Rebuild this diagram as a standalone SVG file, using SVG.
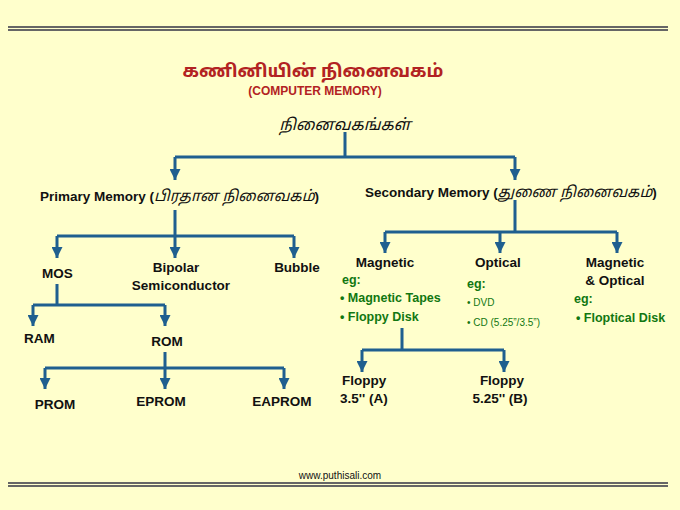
<svg xmlns="http://www.w3.org/2000/svg" width="680" height="510" viewBox="0 0 680 510">
<defs>
<marker id="ah" viewBox="0 0 10 10" refX="10" refY="5" markerWidth="11" markerHeight="11" markerUnits="userSpaceOnUse" orient="auto">
<path d="M0,0 L10,5 L0,10 Z" fill="#1f5f8f"/>
</marker>
<style>
text{font-family:"Liberation Sans",Arial,sans-serif;font-weight:bold;font-size:13.5px;fill:#111}
.ta{font-family:"Noto Sans Tamil","Lohit Tamil","Liberation Serif",serif;font-weight:normal;font-style:italic}
.g{fill:#117711;font-size:12.5px}
.s{fill:#117711;font-size:10px;font-weight:normal}
.c{text-anchor:middle}
.l{fill:none;stroke:#1f5f8f;stroke-width:3}
.a{fill:none;stroke:#1f5f8f;stroke-width:3;marker-end:url(#ah)}
</style>
</defs>
<rect width="680" height="510" fill="#ffffcc"/>
<g stroke="#334" stroke-width="1.5">
<line x1="8" y1="27" x2="668" y2="27"/><line x1="8" y1="30" x2="668" y2="30"/>
<line x1="8" y1="483" x2="668" y2="483"/><line x1="8" y1="486" x2="668" y2="486"/>
</g>
<g id="title">
<text x="313" y="77" class="c ta" style="fill:#b22222;font-size:18px;font-weight:bold;font-style:normal">கணினியின் நினைவகம்</text>
<text x="315" y="95" class="c" style="fill:#b22222;font-size:12px">(COMPUTER MEMORY)</text>
</g>
<g id="connectors">
<path class="l" d="M345,132 V157 M175,157 H515"/>
<path class="a" d="M175,157 V180"/><path class="a" d="M515,157 V180"/>
<path class="l" d="M175,210 V236 M57,236 H294"/>
<path class="a" d="M57,236 V258"/><path class="a" d="M175,236 V258"/><path class="a" d="M294,236 V258"/>
<path class="l" d="M57,284 V305 M33,305 H165"/>
<path class="a" d="M33,305 V326"/><path class="a" d="M165,305 V326"/>
<path class="l" d="M165,352 V368 M45,368 H284"/>
<path class="a" d="M45,368 V389"/><path class="a" d="M165,368 V389"/><path class="a" d="M284,368 V389"/>
<path class="l" d="M515,200 V232 M385,232 H617"/>
<path class="a" d="M385,232 V253"/><path class="a" d="M500,232 V253"/><path class="a" d="M617,232 V253"/>
<path class="l" d="M402,328 V350 M362,350 H504"/>
<path class="a" d="M362,350 V372"/><path class="a" d="M504,350 V372"/>
</g>
<g id="memories"><text x="345" y="130" class="c ta" style="font-size:16px">நினைவகங்கள்</text></g>
<g id="primary"><text x="40" y="201">Primary Memory (<tspan class="ta" style="font-weight:normal;font-size:15px">பிரதான நினைவகம்</tspan>)</text></g>
<g id="secondary"><text x="365" y="197">Secondary Memory (<tspan class="ta" style="font-weight:normal;font-size:15px">துணை நினைவகம்</tspan>)</text></g>
<g id="mos"><text x="42" y="278">MOS</text></g>
<g id="bipolar"><text x="176" y="272" class="c">Bipolar</text><text x="181" y="290" class="c">Semiconductor</text></g>
<g id="bubble"><text x="297" y="272" class="c">Bubble</text></g>
<g id="ram"><text x="24" y="343">RAM</text></g>
<g id="rom"><text x="167" y="346" class="c">ROM</text></g>
<g id="prom"><text x="55" y="409" class="c">PROM</text></g>
<g id="eprom"><text x="161" y="406" class="c">EPROM</text></g>
<g id="eaprom"><text x="282" y="406" class="c">EAPROM</text></g>
<g id="magnetic"><text x="385" y="267" class="c">Magnetic</text>
<text x="342" y="284" class="g">eg:</text><text x="340" y="302" class="g">• Magnetic Tapes</text><text x="340" y="321" class="g">• Floppy Disk</text></g>
<g id="optical"><text x="498" y="267" class="c">Optical</text>
<text x="467" y="288" class="g">eg:</text><text x="467" y="306" class="s">• DVD</text><text x="467" y="326" class="s">• CD (5.25”/3.5”)</text></g>
<g id="magopt"><text x="615" y="267" class="c">Magnetic</text><text x="615" y="285" class="c">&amp; Optical</text>
<text x="574" y="303" class="g">eg:</text><text x="576" y="322" class="g">• Floptical Disk</text></g>
<g id="floppy35"><text x="342" y="385">Floppy</text><text x="340" y="403">3.5'' (A)</text></g>
<g id="floppy525"><text x="502" y="385" class="c">Floppy</text><text x="500" y="403" class="c">5.25'' (B)</text></g>
<text x="340" y="479" class="c" style="font-size:10px;font-weight:normal">www.puthisali.com</text>
</svg>
